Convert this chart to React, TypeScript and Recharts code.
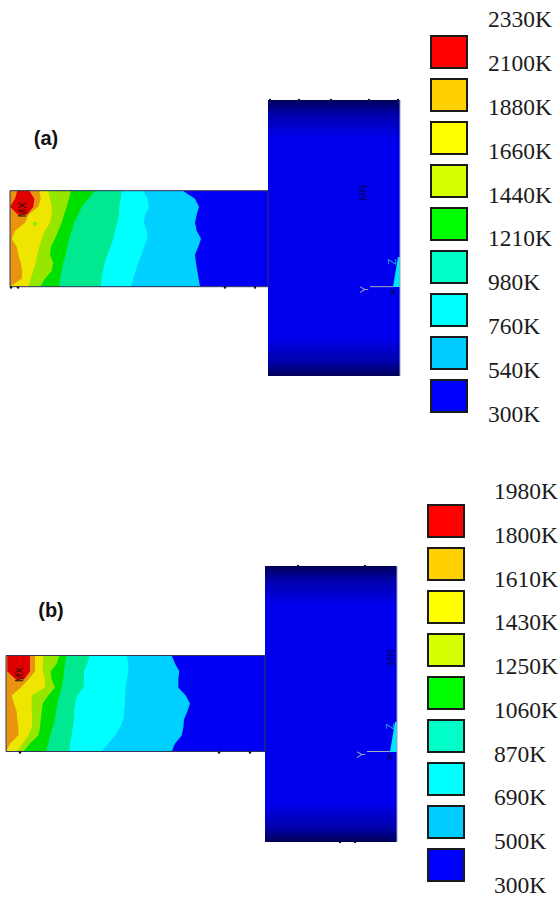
import React from 'react'
import { Area, Bar, BarChart, Cell, ComposedChart, ReferenceArea, ReferenceDot, ReferenceLine, XAxis, YAxis } from 'recharts'

// positions along the rod, measured down from its top edge
const rodRows = [0, 8, 16, 24, 32, 40, 48, 56, 64, 72, 80, 88, 96]
const redRows = [0, 8, 16, 24]

// right-hand edge of each temperature band along the rod, panel (a)
const skyA = [182.7, 195, 199, 196.7, 195, 196.7, 201, 198.3, 195, 196, 197.3, 198.7, 200]
const cyanA = [143.3, 147.3, 149, 145, 144, 146.7, 147.3, 144, 141.7, 138.3, 135.7, 133.3, 130.7]
const tealA = [121.7, 120.7, 119.3, 119, 117.3, 115, 113.3, 110.7, 107.3, 104.7, 103, 101.7, 100.7]
const greenA = [95, 88.3, 81.7, 78.3, 74, 71.7, 69.3, 67.3, 65.7, 63.3, 61.7, 60, 59.3]
const limeA = [71, 69, 66.7, 64, 61.7, 58.3, 55, 51, 50, 53.3, 51.7, 45, 40]
const yellowA = [48.3, 50, 51.7, 51.7, 50, 45, 41.7, 39.3, 37.3, 36, 33.3, 30.7, 28.3]
const orangeA = [39.3, 40.7, 38.3, 28.3, 25, 15, 11.7, 16.7, 18.3, 20.7, 22.3, 21.7, 10]
const redLeftA = [17.3, 15, 10, 18]
const redRightA = [29.3, 34.3, 33.3, 27]

// same for panel (b)
const skyB = [171.7, 175, 179.3, 178.3, 178.3, 185.7, 190, 187.3, 184, 183.3, 181.7, 175, 171.7]
const cyanB = [126.7, 128.3, 128.3, 126.7, 125.7, 125, 125, 124, 123.3, 120, 115, 108.3, 101.7]
const tealB = [89.3, 87.3, 84, 84, 83.3, 77.3, 75, 74, 74, 72.7, 71.7, 70, 69.3]
const greenB = [66.7, 65, 64, 63.3, 61.7, 59.3, 57.3, 56, 55, 52.7, 50, 48.3, 46]
const limeB = [59.3, 56.7, 50.7, 51.7, 55, 48.3, 42.7, 41.7, 40.7, 40, 38.3, 30, 23.3]
const yellowB = [43.3, 42.7, 42.7, 45, 45, 31.7, 31.7, 31.7, 32.3, 31.7, 28.3, 22.7, 16.7]
const orangeB = [35, 35, 35, 28.3, 20.7, 11.7, 14, 16.7, 17.3, 18.3, 18.3, 10, 6]
const redLeftB = [7.3, 7.3, 7.3, 16]
const redRightB = [30, 30, 30, 24]

const labelsA = ['2330K', '2100K', '1880K', '1660K', '1440K', '1210K', '980K', '760K', '540K', '300K']
const labelsB = ['1980K', '1800K', '1610K', '1430K', '1250K', '1060K', '870K', '690K', '500K', '300K']

const bandColors = ['#e00000', '#e8940f', '#eee500', '#96e600', '#00e000', '#00e890', '#00ffff', '#00d0ff', '#0000f5']
const swatchColors = ['#ff0000', '#ffd000', '#ffff00', '#d8ff00', '#00ff00', '#00ffc8', '#00ffff', '#00ccff', '#0000ff']

const SERIF = '"Liberation Serif", serif'
const SANS = '"Liberation Sans", sans-serif'

function band(rows: number[], offset: number, left: number[] | number, right: number[] | number) {
  return rows.map((row, i) => ({
    row: row + offset,
    span: [typeof left === 'number' ? left : left[i], typeof right === 'number' ? right : right[i]],
  }))
}

function Tag({ cx, cy, text, fill, size = 9, angle = -90, weight = 'normal' }: any) {
  return (
    <text
      x={cx}
      y={cy}
      fill={fill}
      fontSize={size}
      fontWeight={weight}
      fontFamily={SANS}
      textAnchor="middle"
      dominantBaseline="central"
      transform={`rotate(${angle} ${cx} ${cy})`}
    >
      {text}
    </text>
  )
}

function Panel({ top, rodTop, rodLeft, hubLeft, hubRight, edges, redLeft, redRight, title, titleX, titleY, wedge, marks, dot, minX }: any) {
  const tag = (x: number, y: number, text: string, fill: string, size?: number, angle?: number, weight?: string) => (
    <ReferenceDot
      x={x}
      y={y}
      r={1}
      ifOverflow="visible"
      shape={(p: any) => <Tag cx={p.cx} cy={p.cy} text={text} fill={fill} size={size} angle={angle} weight={weight} />}
    />
  )
  return (
    <div style={{ position: 'absolute', left: 0, top: top - 4 }}>
      <ComposedChart width={405} height={284} layout="vertical" margin={{ top: 4, right: 0, bottom: 4, left: 0 }}>
        <defs>
          <linearGradient id="hubShade" x1="0" y1="0" x2="0" y2="1">
            <stop offset="0" stopColor="#000058" />
            <stop offset="0.05" stopColor="#0000a8" />
            <stop offset="0.14" stopColor="#0000ee" />
            <stop offset="0.86" stopColor="#0000ee" />
            <stop offset="0.95" stopColor="#0000a8" />
            <stop offset="1" stopColor="#000058" />
          </linearGradient>
        </defs>
        <XAxis type="number" domain={[0, 405]} hide allowDataOverflow />
        <YAxis type="number" dataKey="row" domain={[0, 276]} hide allowDataOverflow />
        <Area data={band([0, 276], 0, hubLeft, hubRight)} dataKey="span" fill="url(#hubShade)" fillOpacity={1} stroke="none" isAnimationActive={false} />
        <Area data={band(wedge.rows, 0, wedge.left, hubRight)} dataKey="span" fill="#00e8ff" fillOpacity={1} stroke="none" isAnimationActive={false} />
        <Area data={band(rodRows, rodTop, rodLeft, hubLeft)} dataKey="span" fill={bandColors[8]} fillOpacity={1} stroke="none" isAnimationActive={false} />
        {edges.map((edge: number[], i: number) => (
          <Area
            key={i}
            data={band(rodRows, rodTop, rodLeft, edge)}
            dataKey="span"
            fill={bandColors[7 - i]}
            fillOpacity={1}
            stroke="none"
            isAnimationActive={false}
          />
        ))}
        <Area data={band(redRows, rodTop, redLeft, redRight)} dataKey="span" fill={bandColors[0]} fillOpacity={1} stroke="none" isAnimationActive={false} />
        <ReferenceArea x1={rodLeft} x2={hubLeft} y1={rodTop} y2={rodTop + 96} fill="none" stroke="#34345a" strokeWidth={1} ifOverflow="visible" />
        <ReferenceLine segment={[{ x: hubRight, y: 0 }, { x: hubRight, y: 276 }]} stroke="#9a9ab8" strokeWidth={1} ifOverflow="visible" />
        <ReferenceLine segment={[{ x: hubRight - 30, y: rodTop + 96 }, { x: hubRight - 7, y: rodTop + 96 }]} stroke="#a8a8c0" strokeWidth={1} ifOverflow="visible" />
        {marks.map((m: number[], i: number) => (
          <ReferenceDot key={i} x={m[0]} y={m[1]} r={1.2} fill="#10102a" stroke="none" ifOverflow="visible" />
        ))}
        {dot && <ReferenceDot x={dot[0]} y={rodTop + dot[1]} r={2.2} fill={bandColors[3]} stroke="none" ifOverflow="visible" />}
        {tag(rodLeft + 13, rodTop + 19, 'MX', '#301008', 10)}
        {tag(minX, rodTop + 2, 'MN', '#00006a', 10)}
        {tag(hubRight - 36, rodTop + 99, 'Y', '#a8a8c0', 11)}
        {tag(hubRight - 7, rodTop + 101, 'X', '#00003a', 9, 0)}
        {tag(hubRight - 7, rodTop + 71, 'Z', '#22a8e8', 10)}
        {tag(titleX, titleY, title, '#111', 20, 0, 'bold')}
      </ComposedChart>
    </div>
  )
}

function LegendTick({ y, payload }: any) {
  return (
    <text x={0} y={y} fontFamily={SERIF} fontSize={23.5} fill="#1c1c1c" dominantBaseline="central">
      {payload.value}
    </text>
  )
}

function LegendColumn({ labels, swatchLeft, swatchTop, labelLeft, labelTop, labelStep }: any) {
  const swatches = labels.slice(1).map((label: string, i: number) => ({ name: `${label}-${labels[i]}` }))
  const ticks = labels.map((label: string) => ({ label }))
  return (
    <>
      <div style={{ position: 'absolute', left: swatchLeft - 2, top: swatchTop }}>
        <BarChart width={40} height={387} layout="vertical" data={swatches} margin={{ top: 0, right: 2, bottom: 0, left: 2 }}>
          <XAxis type="number" domain={[0, 1]} hide />
          <YAxis type="category" dataKey="name" hide />
          <Bar dataKey={() => 1} barSize={32} stroke="#1a1a1a" strokeWidth={2} isAnimationActive={false}>
            {swatches.map((s: any, i: number) => (
              <Cell key={s.name} fill={swatchColors[i]} />
            ))}
          </Bar>
        </BarChart>
      </div>
      <div style={{ position: 'absolute', left: labelLeft, top: labelTop - 14 }}>
        <ComposedChart width={72} height={labelStep * 9 + 26} layout="vertical" data={ticks} margin={{ top: 14, right: 0, bottom: 12, left: 0 }}>
          <XAxis type="number" domain={[0, 1]} hide />
          <YAxis
            type="category"
            dataKey="label"
            scale="point"
            width={70}
            interval={0}
            axisLine={false}
            tickLine={false}
            tick={<LegendTick />}
          />
        </ComposedChart>
      </div>
    </>
  )
}

export default function App() {
  return (
    <div style={{ position: 'absolute', left: 0, top: 0, width: 560, height: 897, background: '#fff', overflow: 'hidden' }}>
      <Panel
        top={100}
        rodTop={90.7}
        rodLeft={10}
        hubLeft={268}
        hubRight={400}
        edges={[skyA, cyanA, tealA, greenA, limeA, yellowA, orangeA]}
        redLeft={redLeftA}
        redRight={redRightA}
        title="(a)"
        titleX={46}
        titleY={38}
        wedge={{ rows: [157, 187], left: [398, 393] }}
        marks={[[11, 187.5], [18, 187.5], [225, 187.5], [255, 187.5], [270, 0], [299, 0], [331, 0], [369, 0], [398, 0]]}
        dot={[35, 33]}
        minX={364}
      />
      <Panel
        top={566}
        rodTop={89.5}
        rodLeft={6}
        hubLeft={265}
        hubRight={397}
        edges={[skyB, cyanB, tealB, greenB, limeB, yellowB, orangeB]}
        redLeft={redLeftB}
        redRight={redRightB}
        title="(b)"
        titleX={51}
        titleY={44}
        wedge={{ rows: [156, 186], left: [395, 390] }}
        marks={[[20, 186.5], [219, 186.5], [250, 186.5], [298, 0], [365, 0], [340, 276], [355, 276]]}
        minX={391}
      />
      <LegendColumn labels={labelsA} swatchLeft={431} swatchTop={30} labelLeft={488} labelTop={19} labelStep={43.9} />
      <LegendColumn labels={labelsB} swatchLeft={428} swatchTop={499} labelLeft={494} labelTop={491} labelStep={43.75} />
    </div>
  )
}
